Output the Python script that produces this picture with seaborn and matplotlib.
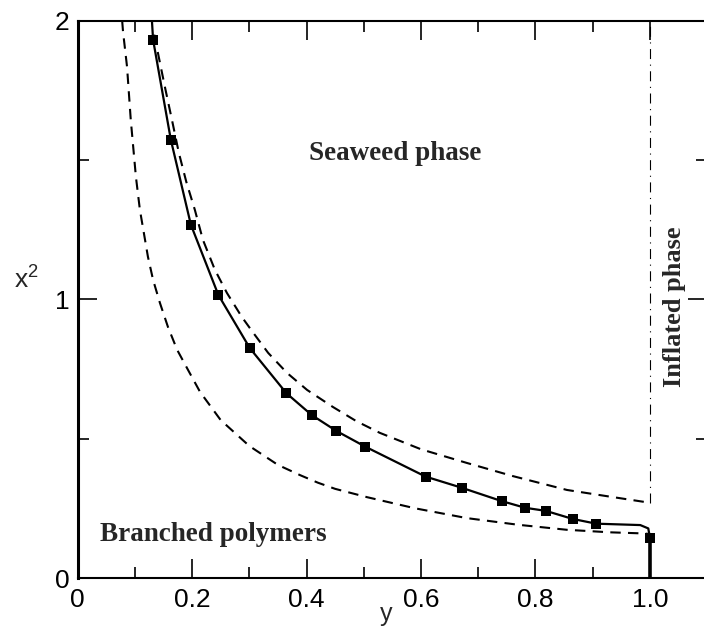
import matplotlib
matplotlib.use("Agg")
import matplotlib.pyplot as plt
import seaborn as sns
from matplotlib.ticker import FixedLocator, FixedFormatter

# ---------------- data ----------------
# simulation points (squares)
sq_y = [0.132, 0.163, 0.198, 0.246, 0.301, 0.365, 0.409, 0.452, 0.503,
        0.608, 0.671, 0.741, 0.782, 0.818, 0.865, 0.906, 1.000]
sq_x2 = [1.932, 1.573, 1.268, 1.016, 0.825, 0.663, 0.585, 0.528, 0.471,
         0.364, 0.324, 0.276, 0.252, 0.241, 0.212, 0.195, 0.144]

# solid phase boundary through the squares
solid_y = [0.130, 0.132, 0.163, 0.198, 0.246, 0.301, 0.365, 0.409, 0.452,
           0.503, 0.608, 0.671, 0.741, 0.782, 0.818, 0.865, 0.906, 0.983,
           0.997, 1.000]
solid_x2 = [2.000, 1.932, 1.573, 1.268, 1.016, 0.825, 0.663, 0.585, 0.528,
            0.471, 0.364, 0.324, 0.276, 0.252, 0.241, 0.212, 0.195, 0.190,
            0.178, 0.144]

# thick vertical segment at y = 1
vert_y = [1.0, 1.0]
vert_x2 = [0.144, 0.0]

# upper dashed bound
up_y = [0.134, 0.144, 0.153, 0.166, 0.177, 0.190, 0.205, 0.219, 0.240,
        0.261, 0.287, 0.307, 0.333, 0.366, 0.401, 0.446, 0.487, 0.528,
        0.600, 0.680, 0.760, 0.855, 0.930, 1.000]
up_x2 = [1.950, 1.849, 1.759, 1.634, 1.526, 1.422, 1.321, 1.214, 1.106,
         1.023, 0.937, 0.880, 0.808, 0.736, 0.675, 0.614, 0.563, 0.521,
         0.462, 0.413, 0.366, 0.316, 0.292, 0.270]

# lower dashed bound
lo_y = [0.078, 0.0795, 0.0865, 0.093, 0.102, 0.109, 0.123, 0.132, 0.144,
        0.158, 0.174, 0.193, 0.214, 0.250, 0.300, 0.350, 0.389, 0.420,
        0.450, 0.506, 0.590, 0.680, 0.770, 0.855, 0.930, 0.988, 1.000]
lo_x2 = [2.000, 1.961, 1.835, 1.645, 1.440, 1.321, 1.153, 1.070, 0.987,
         0.901, 0.819, 0.747, 0.668, 0.567, 0.474, 0.406, 0.369, 0.342,
         0.320, 0.290, 0.250, 0.215, 0.191, 0.173, 0.164, 0.160, 0.158]

# dash-dot line at y = 1
dd_y = [1.0, 1.0]
dd_x2 = [0.27, 2.0]

x_ticks = [0.0, 0.2, 0.4, 0.6, 0.8, 1.0]
x_tick_labels = ["0", "0.2", "0.4", "0.6", "0.8", "1.0"]
x_minor = [0.1, 0.3, 0.5, 0.7, 0.9]
y_ticks = [0.0, 1.0, 2.0]
y_tick_labels = ["0", "1", "2"]
y_minor = [0.5, 1.5]

# ---------------- figure ----------------
sns.set_style("ticks")
plt.rcParams['font.family'] = ['Liberation Sans', 'DejaVu Sans']
plt.rcParams['mathtext.fontset'] = 'custom'
plt.rcParams['mathtext.rm'] = 'Liberation Sans'
plt.rcParams['mathtext.it'] = 'Liberation Sans'

fig = plt.figure(figsize=(7.04, 6.28), dpi=100)
ax = fig.add_axes([0.1101, 0.0796, 0.8945, 0.8874])

sns.lineplot(x=lo_y, y=lo_x2, ax=ax, color="black", lw=1.5, sort=False,
             estimator=None, linestyle=(0, (5, 3.5)))
sns.lineplot(x=up_y, y=up_x2, ax=ax, color="black", lw=1.5, sort=False,
             estimator=None, linestyle=(0, (5, 3.5)))
sns.lineplot(x=dd_y, y=dd_x2, ax=ax, color="black", lw=0.8, sort=False,
             estimator=None, linestyle=(0, (9, 5, 1, 5)))
sns.lineplot(x=solid_y, y=solid_x2, ax=ax, color="black", lw=1.6,
             sort=False, estimator=None)
sns.lineplot(x=vert_y, y=vert_x2, ax=ax, color="black", lw=2.6,
             sort=False, estimator=None)
sns.scatterplot(x=sq_y, y=sq_x2, ax=ax, marker="s", s=50, color="black",
                edgecolor="black", linewidth=0, zorder=5)

ax.set_xlim(0, 1.1)
ax.set_ylim(0, 2)

ax.xaxis.set_major_locator(FixedLocator(x_ticks))
ax.xaxis.set_major_formatter(FixedFormatter(x_tick_labels))
ax.xaxis.set_minor_locator(FixedLocator(x_minor))
ax.yaxis.set_major_locator(FixedLocator(y_ticks))
ax.yaxis.set_major_formatter(FixedFormatter(y_tick_labels))
ax.yaxis.set_minor_locator(FixedLocator(y_minor))

ax.tick_params(which="both", direction="in", top=True, right=True,
               colors="black", width=1.2)
ax.tick_params(which="major", length=14, labelsize=19)
ax.tick_params(which="minor", length=8)
ax.tick_params(axis="x", which="major", pad=7)
ax.tick_params(axis="y", which="major", pad=6)

for side in ["top", "bottom", "right"]:
    ax.spines[side].set_linewidth(1.5)
    ax.spines[side].set_color("black")
ax.spines["left"].set_linewidth(2.2)
ax.spines["left"].set_color("black")

ax.set_xlabel("y", fontsize=18, va="top")
ax.xaxis.set_label_coords(0.490, -0.043)
ax.set_ylabel(r"$\mathregular{x^2}$", fontsize=19, rotation=0,
              va="center", ha="center")
ax.yaxis.set_label_coords(-0.082, 0.535)

serif = ["Liberation Serif", "DejaVu Serif"]
ax.text(0.404, 1.501, "Seaweed phase", family=serif, fontweight="bold",
        fontsize=19.5, ha="left", va="baseline")
ax.text(0.039, 0.133, "Branched polymers", family=serif, fontweight="bold",
        fontsize=19.5, ha="left", va="baseline")
ax.text(1.042, 0.975, "Inflated phase", family=serif, fontweight="bold",
        fontsize=19, rotation=90, ha="center", va="center")

fig.savefig("out.png", dpi=100, facecolor="white")
